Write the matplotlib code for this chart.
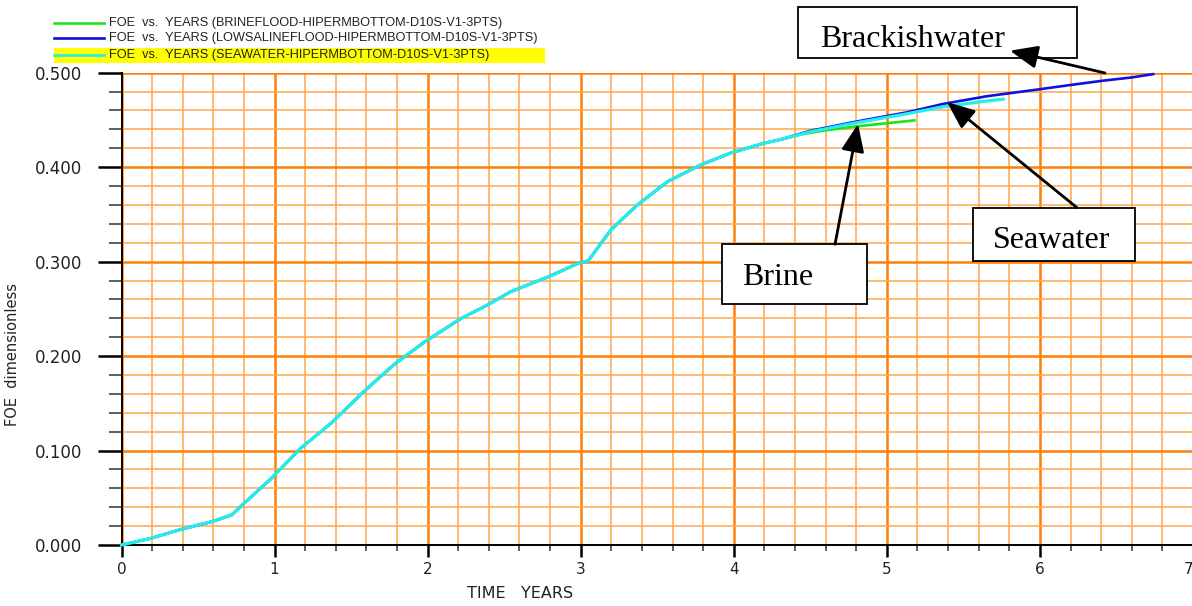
import matplotlib
matplotlib.use("Agg")
import matplotlib.pyplot as plt
from matplotlib.lines import Line2D
from matplotlib.patches import Rectangle, FancyArrowPatch
from matplotlib.ticker import MultipleLocator, FixedLocator

# ---- data -------------------------------------------------------------
# common early-time history (all three floods coincide here)
years_common = [0.00, 0.19, 0.39, 0.59, 0.72, 0.80, 0.98, 1.17, 1.37, 1.58,
                1.78, 1.98, 2.22, 2.39, 2.54, 2.79, 2.98, 3.05, 3.135, 3.20,
                3.37, 3.57, 3.785, 3.98, 4.20, 4.30]
foe_common = [0.000, 0.007, 0.0166, 0.0247, 0.0318, 0.044, 0.0707, 0.1024,
              0.129, 0.162, 0.191, 0.215, 0.240, 0.254, 0.268, 0.284, 0.298,
              0.301, 0.320, 0.334, 0.360, 0.385, 0.4025, 0.415, 0.4255, 0.429]

years_brine_tail = [4.45, 4.60, 4.80, 5.00, 5.18]
foe_brine_tail = [0.4350, 0.4390, 0.4431, 0.4465, 0.4495]

years_lowsal_tail = [4.50, 4.806, 5.13, 5.37, 5.65, 5.976, 6.20, 6.41, 6.60, 6.74]
foe_lowsal_tail = [0.4385, 0.4484, 0.458, 0.467, 0.475, 0.482, 0.487, 0.4915,
                   0.495, 0.4985]

years_sea_tail = [4.50, 4.80, 5.13, 5.37, 5.60, 5.76]
foe_sea_tail = [0.4375, 0.4470, 0.4565, 0.4640, 0.4690, 0.4720]

series_labels = [
    "FOE  vs.  YEARS (BRINEFLOOD-HIPERMBOTTOM-D10S-V1-3PTS)",
    "FOE  vs.  YEARS (LOWSALINEFLOOD-HIPERMBOTTOM-D10S-V1-3PTS)",
    "FOE  vs.  YEARS (SEAWATER-HIPERMBOTTOM-D10S-V1-3PTS)",
]
series_colors = ["#19e619", "#1010e0", "#22eeee"]

x_ticks = [0, 1, 2, 3, 4, 5, 6, 7]
y_ticks = [0.0, 0.1, 0.2, 0.3, 0.4, 0.5]
y_ticklabels = ["0.000", "0.100", "0.200", "0.300", "0.400", "0.500"]

# ---- figure -----------------------------------------------------------
W, H = 1192, 606
fig = plt.figure(figsize=(W / 100, H / 100), dpi=100)


def fx(px):
    return px / W


def fy(py):
    return 1 - py / H


ax_left, ax_right, ax_top, ax_bottom = 121.5, 1193.0, 72.7, 545.0
ax = fig.add_axes([fx(ax_left), fy(ax_bottom),
                   (ax_right - ax_left) / W, (ax_bottom - ax_top) / H])
ax.set_xlim(0, 7)
ax.set_ylim(0, 0.5)

# grid
ax.xaxis.set_major_locator(FixedLocator(x_ticks))
ax.xaxis.set_minor_locator(MultipleLocator(0.2))
ax.yaxis.set_major_locator(FixedLocator(y_ticks))
ax.yaxis.set_minor_locator(MultipleLocator(0.02))
ax.grid(which="minor", color="#ffa64a", lw=1.1, zorder=0)
ax.grid(which="major", color="#ff7f0a", lw=1.8, zorder=0)
ax.set_axisbelow(True)

for s in ("top", "right"):
    ax.spines[s].set_visible(False)
for s in ("left", "bottom"):
    ax.spines[s].set_color("black")
    ax.spines[s].set_linewidth(1.4)

ax.tick_params(axis="y", which="major", direction="out", length=17.5,
               width=1.8, color="black", pad=10.5, labelsize=12,
               labelcolor="#222222")
ax.tick_params(axis="y", which="minor", direction="out", length=9.4,
               width=1.1, color="#333333")
ax.tick_params(axis="x", which="major", direction="out", length=8.6,
               width=1.8, color="black", pad=3.5, labelsize=11,
               labelcolor="#222222")
ax.tick_params(axis="x", which="minor", direction="out", length=4.3,
               width=1.1, color="#333333")
ax.set_yticklabels(y_ticklabels)
ax.set_xticklabels([str(t) for t in x_ticks])
xlabels = ax.get_xticklabels()
xlabels[-1].set_horizontalalignment("right")

# curves
ax.plot(years_common + years_brine_tail, foe_common + foe_brine_tail,
        color=series_colors[0], lw=1.9, zorder=3, clip_on=False)
ax.plot(years_common + years_lowsal_tail, foe_common + foe_lowsal_tail,
        color=series_colors[1], lw=1.9, zorder=4, clip_on=False)
ax.plot(years_common + years_sea_tail, foe_common + foe_sea_tail,
        color=series_colors[2], lw=2.3, zorder=5, clip_on=False)

# axis titles
fig.text(fx(520), fy(593), "TIME   YEARS", ha="center", va="center",
         fontsize=11.5, color="#222222")
fig.text(fx(13), fy(354), "FOE  dimensionless", ha="center", va="center",
         rotation=90, fontsize=10.5, color="#222222")

# legend block
leg_rows = [22.7, 38.3, 55.0]
fig.patches.append(Rectangle((fx(53.6), fy(62.7)), fx(545 - 53.6),
                             (62.7 - 47.7) / H, transform=fig.transFigure,
                             facecolor="#ffff00", edgecolor="none", zorder=0))
for row, lab, col in zip(leg_rows, series_labels, series_colors):
    fig.add_artist(Line2D([fx(53.6), fx(104)], [fy(row), fy(row)],
                          transform=fig.transFigure, color=col, lw=1.9))
    fig.text(fx(109), fy(row), lab, ha="left", va="center",
             family="Liberation Sans", fontsize=9.2, color="#222222")

# annotation boxes
serif = "Liberation Serif"


def label_box(x0, y0, x1, y1, text, tx, ty):
    fig.patches.append(Rectangle((fx(x0), fy(y1)), fx(x1 - x0),
                                 (y1 - y0) / H, transform=fig.transFigure,
                                 facecolor="white", edgecolor="black",
                                 lw=1.3, zorder=6))
    fig.text(fx(tx), fy(ty), text, ha="left", va="baseline", family=serif,
             fontsize=23, color="black", zorder=7)


label_box(798.3, 6.7, 1077.3, 58.3, "Brackishwater", 820, 46.7)
label_box(973.3, 207.7, 1135, 261, "Seawater", 993, 248.3)
label_box(721.7, 244.3, 866.7, 304, "Brine", 741.7, 285)

arrow_kw = dict(arrowstyle="-|>,head_length=1.2,head_width=0.5",
                color="black", lw=2.0, shrinkA=0, shrinkB=0)


def arrow(tail, tip):
    fig.add_artist(FancyArrowPatch(
        (fx(tail[0]), fy(tail[1])), (fx(tip[0]), fy(tip[1])),
        transform=fig.transFigure, mutation_scale=14, zorder=8, **arrow_kw))


arrow((835, 244.3), (858, 124))
arrow((1077, 207.7), (947, 102))
arrow((1105, 73), (1010, 50.7))

fig.savefig("out.png", dpi=100)
